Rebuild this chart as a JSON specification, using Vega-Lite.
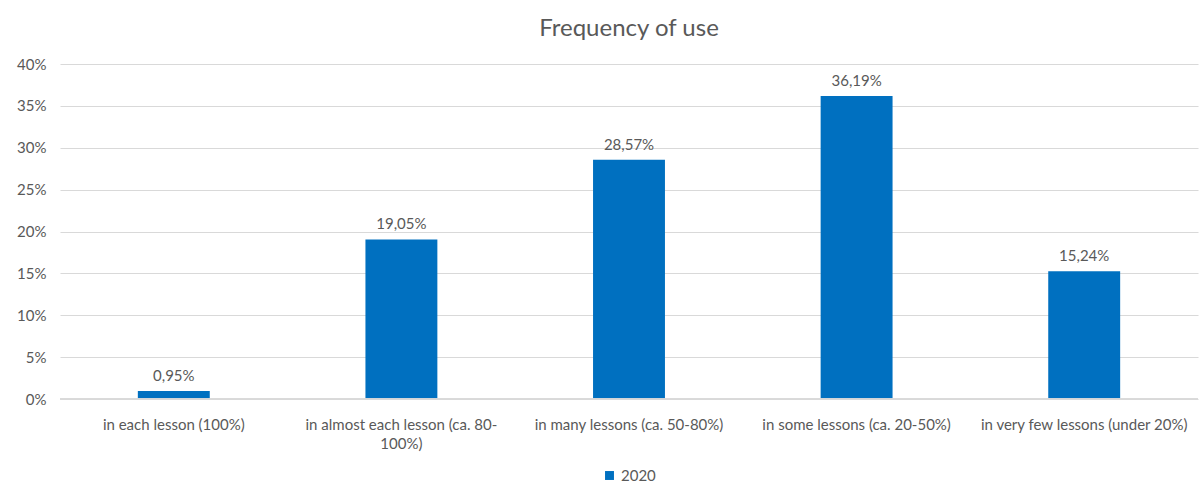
{
  "$schema": "https://vega.github.io/schema/vega-lite/v6.json",
  "width": 1138,
  "height": 335,
  "padding": {"left": 16, "top": 17, "right": 5, "bottom": 2},
  "background": "white",
  "title": {"text": "Frequency of use", "font": "Lato", "fontSize": 24, "fontWeight": "normal", "color": "#595959", "offset": 16},
  "config": {"view": {"stroke": null}, "font": "Lato", "legend": {"layout": {"bottom": {"anchor": "middle"}}}},
  "data": {"values": [
    {"category": "in each lesson (100%)", "value": 0.0095, "label": "0,95%", "series": "2020", "order": 1},
    {"category": "in almost each lesson (ca. 80-100%)", "value": 0.1905, "label": "19,05%", "series": "2020", "order": 2},
    {"category": "in many lessons (ca. 50-80%)", "value": 0.2857, "label": "28,57%", "series": "2020", "order": 3},
    {"category": "in some lessons (ca. 20-50%)", "value": 0.3619, "label": "36,19%", "series": "2020", "order": 4},
    {"category": "in very few lessons (under 20%)", "value": 0.1524, "label": "15,24%", "series": "2020", "order": 5}
  ]},
  "encoding": {
    "x": {"field": "category", "type": "nominal", "sort": {"field": "order"},
      "scale": {"paddingInner": 0.684, "paddingOuter": 0.342},
      "axis": {"title": null, "labelAngle": 0, "labelFontSize": 15, "labelColor": "#595959", "labelPadding": 18,
        "ticks": false, "domain": false, "labelLimit": 300, "labelLineHeight": 19,
        "labelExpr": "datum.value == 'in almost each lesson (ca. 80-100%)' ? ['in almost each lesson (ca. 80-', '100%)'] : datum.value"}},
    "y": {"field": "value", "type": "quantitative",
      "scale": {"domain": [0, 0.4]},
      "axis": {"title": null, "format": ".0%", "values": [0, 0.05, 0.1, 0.15, 0.2, 0.25, 0.3, 0.35, 0.4],
        "labelFontSize": 15, "labelColor": "#595959", "labelPadding": 14, "ticks": false, "domain": false,
        "gridColor": "#d9d9d9", "gridWidth": 1}}
  },
  "layer": [
    {"mark": {"type": "bar", "color": "#0070C0"},
     "encoding": {"color": {"field": "series", "type": "nominal", "scale": {"range": ["#0070C0"]},
       "legend": {"title": null, "orient": "bottom", "direction": "horizontal", "symbolType": "square", "symbolSize": 80,
         "labelFontSize": 15, "labelColor": "#595959", "offset": 17, "symbolStrokeWidth": 0, "labelOffset": 4}}}},
    {"mark": {"type": "rule", "color": "#d9d9d9", "strokeWidth": 1},
     "encoding": {"y": {"datum": 0}, "x": null}},
    {"mark": {"type": "text", "dy": -15, "fontSize": 15, "color": "#595959"},
     "encoding": {"text": {"field": "label"}}}
  ]
}
